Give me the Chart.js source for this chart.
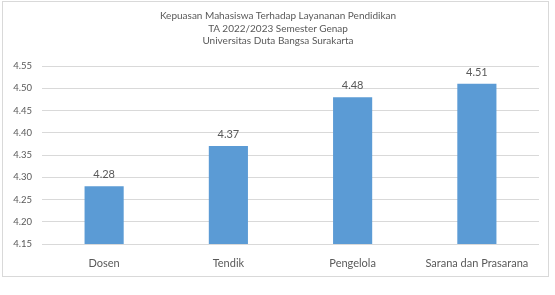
<!DOCTYPE html>
<html lang="id">
<head>
  <meta charset="UTF-8">
  <title>Kepuasan Mahasiswa</title>
  <script src="https://cdn.jsdelivr.net/npm/chart.js"></script>
  <style>
    body {
      margin: 0;
      background: #ffffff;
    }
    .chart-box {
      position: absolute;
      left: 2px;
      top: 1px;
      width: 547px;
      height: 276px;
      box-sizing: border-box;
      border: 1px solid #d9d9d9;
      background: #ffffff;
    }
    #kepuasanChart {
      width: 545px;
      height: 274px;
    }
    .judul {
      position: absolute;
      left: 128px;
      top: 9px;
      width: 300px;
      text-align: center;
      font: 10px Lato, "Open Sans", sans-serif;
      line-height: 12.6px;
      color: #595959;
    }
  </style>
</head>
<body>
  <div class="chart-box">
    <canvas id="kepuasanChart"></canvas>
  </div>
  <div class="judul" id="judul"></div>

  <script>
    const judul = [
      'Kepuasan Mahasiswa Terhadap Layananan Pendidikan',
      'TA 2022/2023 Semester Genap',
      'Universitas Duta Bangsa Surakarta'
    ];
    const kategori = ['Dosen', 'Tendik', 'Pengelola', 'Sarana dan Prasarana'];
    const nilai = [4.28, 4.37, 4.48, 4.51];
    const sumbuMin = 4.15;
    const sumbuMax = 4.55;
    const langkah = 0.05;

    const teks = '#595959';
    const huruf = 'Lato, "Open Sans", sans-serif';

    // judul sebagai teks biasa, supaya posisinya bisa digeser seperti di Excel
    const elJudul = document.getElementById('judul');
    judul.forEach(baris => {
      const d = document.createElement('div');
      d.textContent = baris;
      elJudul.appendChild(d);
    });

    // label nilai di atas batang
    const labelNilai = {
      id: 'labelNilai',
      afterDatasetsDraw(chart) {
        const c = chart.ctx;
        const meta = chart.getDatasetMeta(0);
        c.save();
        c.font = '11px ' + huruf;
        c.fillStyle = teks;
        c.textAlign = 'center';
        c.textBaseline = 'bottom';
        meta.data.forEach((bar, i) => {
          c.fillText(nilai[i].toFixed(2), bar.x, bar.y - 6);
        });
        c.restore();
      }
    };

    const ctx = document.getElementById('kepuasanChart').getContext('2d');
    new Chart(ctx, {
      type: 'bar',
      data: {
        labels: kategori,
        datasets: [{
          data: nilai,
          backgroundColor: '#5b9bd5',
          borderWidth: 0,
          barPercentage: 0.315,
          categoryPercentage: 1
        }]
      },
      options: {
        responsive: false,
        animation: false,
        layout: {
          padding: { left: 0, right: 9, top: 64, bottom: 0 }
        },
        plugins: {
          legend: { display: false },
          tooltip: { enabled: false },
          title: { display: false }
        },
        scales: {
          x: {
            grid: { display: false },
            border: { display: false },
            ticks: {
              color: teks,
              font: { family: huruf, size: 11 },
              padding: 5,
              maxRotation: 0,
              autoSkip: false
            },
            afterFit(axis) { axis.height = 30; }
          },
          y: {
            min: sumbuMin,
            max: sumbuMax,
            grid: { color: '#d9d9d9', drawTicks: false },
            border: { display: false },
            ticks: {
              stepSize: langkah,
              color: teks,
              font: { family: huruf, size: 9.5 },
              padding: 10,
              callback: v => v.toFixed(2)
            },
            afterFit(axis) { axis.width = 39; }
          }
        }
      },
      plugins: [labelNilai]
    });
  </script>
</body>
</html>
